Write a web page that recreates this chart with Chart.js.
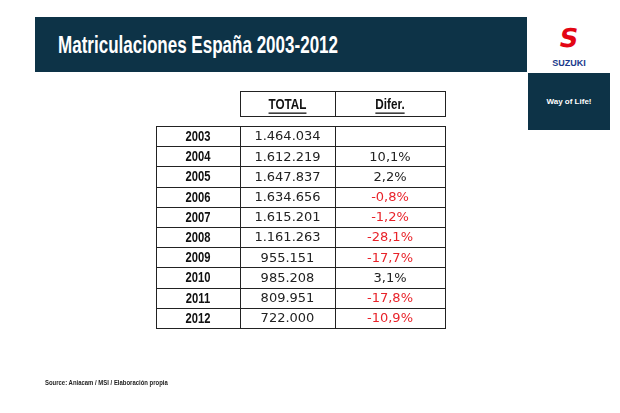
<!DOCTYPE html>
<html><head><meta charset="utf-8">
<script src="https://cdn.jsdelivr.net/npm/chart.js@4/dist/chart.umd.min.js"></script>
<style>
html,body{margin:0;padding:0;background:#fff;}
#wrap{position:relative;width:620px;height:413px;overflow:hidden;font-family:"Liberation Sans",sans-serif;}
#c{position:absolute;left:0;top:0;}
.band{position:absolute;left:35px;top:17px;width:492px;height:55px;background:#0d3347;}
.title{position:absolute;left:58px;top:32px;color:#fff;font-weight:bold;font-size:23px;white-space:nowrap;transform:scaleX(0.74);transform-origin:left;}
.logo{position:absolute;left:528px;top:17px;width:82px;height:55px;background:#fff;}
.logo .s{position:absolute;left:0;width:82px;text-align:center;top:6px;color:#e30613;font-weight:bold;font-size:26px;font-family:"DejaVu Sans";transform:skewX(-10deg);}
.logo .t{position:absolute;left:0;width:82px;top:41px;text-align:center;color:#1a3a8c;font-weight:bold;font-size:9px;}
.way{position:absolute;left:528px;top:73px;width:82px;height:57px;background:#0d3347;color:#fff;font-weight:bold;font-size:8px;text-align:center;line-height:57px;}
.src{position:absolute;left:45px;top:379px;font-weight:bold;font-size:7px;color:#222;white-space:nowrap;transform:scaleX(0.85);transform-origin:left;}
</style></head><body>
<div id="wrap">
<div class="band"></div>
<div class="title">Matriculaciones España 2003-2012</div>
<div class="logo"><div class="s">S</div><div class="t">SUZUKI</div></div>
<div class="way">Way of Life!</div>
<canvas id="c" width="620" height="413"></canvas>
<div class="src">Source: Aniacam / MSI / Elaboración propia</div>
</div>
<script>
const years = ["2003","2004","2005","2006","2007","2008","2009","2010","2011","2012"];
const totals = ["1.464.034","1.612.219","1.647.837","1.634.656","1.615.201","1.161.263","955.151","985.208","809.951","722.000"];
const difer = ["","10,1%","2,2%","-0,8%","-1,2%","-28,1%","-17,7%","3,1%","-17,8%","-10,9%"];
const headers = ["TOTAL","Difer."];
const colEdges = [156,240,335,445];

function narrowText(ctx, txt, cx, cy, sx){
  ctx.save(); ctx.translate(cx,cy); ctx.scale(sx,1); ctx.fillText(txt,0,0); ctx.restore();
}
const tablePlugin = {
  id:'table',
  afterDraw(chart){
    const ctx = chart.ctx, x = chart.scales.x, y = chart.scales.y;
    const band = y.getPixelForValue(1) - y.getPixelForValue(0);
    const top = y.getPixelForValue(0) - band/2, bot = y.getPixelForValue(years.length-1) + band/2;
    const xs = colEdges.map(v => Math.round(x.getPixelForValue(v)));
    ctx.save();
    ctx.strokeStyle = '#222'; ctx.lineWidth = 1;
    const hTop = top - 35, hBot = top - 10;
    ctx.strokeRect(xs[1]+0.5, hTop+0.5, xs[3]-xs[1], hBot-hTop);
    ctx.beginPath(); ctx.moveTo(xs[2]+0.5,hTop); ctx.lineTo(xs[2]+0.5,hBot); ctx.stroke();
    ctx.textAlign='center'; ctx.textBaseline='middle';
    ctx.font = 'bold 15px "Liberation Sans", sans-serif';
    ctx.fillStyle='#111';
    headers.forEach((h,i)=>{
      const cx=(xs[i+1]+xs[i+2])/2, cy=(hTop+hBot)/2+1;
      narrowText(ctx,h,cx,cy,0.78);
      const w=ctx.measureText(h).width*0.78;
      ctx.fillRect(cx-w/2, cy+8, w, 1.3);
    });
    ctx.strokeRect(xs[0]+0.5, top+0.5, xs[3]-xs[0], bot-top);
    ctx.beginPath();
    [1,2].forEach(i=>{ctx.moveTo(xs[i]+0.5,top);ctx.lineTo(xs[i]+0.5,bot);});
    for(let i=1;i<years.length;i++){const yy=Math.round(top+band*i)+0.5;ctx.moveTo(xs[0],yy);ctx.lineTo(xs[3],yy);}
    ctx.stroke();
    years.forEach((yr,i)=>{
      const cy = y.getPixelForValue(i)+1;
      ctx.fillStyle='#111';
      ctx.font='bold 14px "Liberation Sans", sans-serif';
      narrowText(ctx,yr,(xs[0]+xs[1])/2,cy,0.8);
      ctx.font='13px "DejaVu Sans", sans-serif';
      ctx.fillStyle='#222';
      ctx.fillText(totals[i],(xs[1]+xs[2])/2,cy);
      ctx.fillStyle = difer[i].startsWith('-') ? '#e8232a' : '#222';
      ctx.fillText(difer[i],(xs[2]+xs[3])/2,cy);
    });
    ctx.restore();
  }
};

new Chart(document.getElementById('c'),{
  type:'bar',
  data:{labels:years,datasets:[{data:years.map(()=>null)}]},
  options:{
    responsive:false,animation:false,
    layout:{padding:{left:156,top:126,right:175,bottom:85}},
    plugins:{legend:{display:false},tooltip:{enabled:false}},
    scales:{
      x:{type:'linear',min:156,max:445,offset:false,display:false},
      y:{type:'category',labels:years,offset:true,display:false}
    }
  },
  plugins:[tablePlugin]
});
</script>
</body></html>
